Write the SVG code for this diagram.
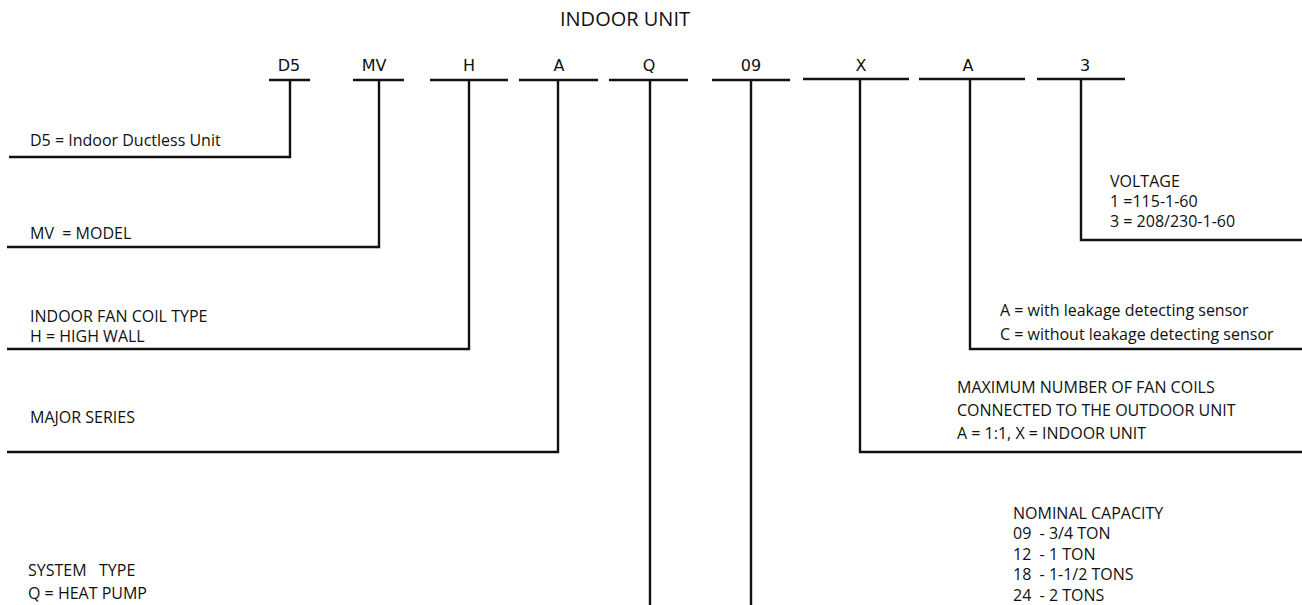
<svg xmlns="http://www.w3.org/2000/svg" width="1302" height="605" viewBox="0 0 1302 605">
  <style>
    .bg { fill: #ffffff; }
    .code { font-family: "DejaVu Sans", sans-serif; font-size: 16px; fill: #111; text-anchor: middle; }
    .desc { font-family: "Open Sans", "Liberation Sans", sans-serif; font-size: 16px; fill: #111; white-space: pre; }
    .title { font-family: "Open Sans", "Liberation Sans", sans-serif; font-size: 20px; fill: #111; text-anchor: middle; }
    .bar { stroke: #111; stroke-width: 2.6; fill: none; }
    .wire { stroke: #111; stroke-width: 2.4; fill: none; stroke-linejoin: miter; }
  </style>
  <rect class="bg" x="0" y="0" width="1302" height="605"/>

  <g id="title">
    <text class="title" x="625" y="26">INDOOR UNIT</text>
  </g>

  <g id="code-d5"><text class="code" x="289" y="71">D5</text><line class="bar" x1="269" y1="80" x2="310" y2="80"/></g>
  <g id="code-mv"><text class="code" x="374" y="71">MV</text><line class="bar" x1="353" y1="80" x2="404" y2="80"/></g>
  <g id="code-h"><text class="code" x="469" y="71">H</text><line class="bar" x1="430" y1="80" x2="508" y2="80"/></g>
  <g id="code-a1"><text class="code" x="559" y="71">A</text><line class="bar" x1="519" y1="80" x2="598" y2="80"/></g>
  <g id="code-q"><text class="code" x="649" y="71">Q</text><line class="bar" x1="609" y1="80" x2="688" y2="80"/></g>
  <g id="code-09"><text class="code" x="751" y="71">09</text><line class="bar" x1="712" y1="80" x2="790" y2="80"/></g>
  <g id="code-x"><text class="code" x="861" y="71">X</text><line class="bar" x1="803" y1="79" x2="909" y2="79"/></g>
  <g id="code-a2"><text class="code" x="968" y="71">A</text><line class="bar" x1="919" y1="79" x2="1025" y2="79"/></g>
  <g id="code-3"><text class="code" x="1085" y="71">3</text><line class="bar" x1="1037" y1="79" x2="1125" y2="79"/></g>

  <g id="connectors">
    <polyline class="wire" points="290,80 290,157 9,157"/>
    <polyline class="wire" points="379,80 379,247 7,247"/>
    <polyline class="wire" points="469,80 469,349 7,349"/>
    <polyline class="wire" points="558,80 558,452 7,452"/>
    <polyline class="wire" points="650,80 650,605"/>
    <polyline class="wire" points="751,80 751,605"/>
    <polyline class="wire" points="860,80 860,452 1302,452"/>
    <polyline class="wire" points="970,80 970,349 1302,349"/>
    <polyline class="wire" points="1081,79 1081,240 1302,240"/>
  </g>

  <g id="desc-d5"><text class="desc" x="30" y="146">D5 = Indoor Ductless Unit</text></g>
  <g id="desc-mv"><text class="desc" x="30" y="239">MV  = MODEL</text></g>
  <g id="desc-h">
    <text class="desc" x="30" y="322">INDOOR FAN COIL TYPE</text>
    <text class="desc" x="30" y="342">H = HIGH WALL</text>
  </g>
  <g id="desc-a1"><text class="desc" x="30" y="423">MAJOR SERIES</text></g>
  <g id="desc-q">
    <text class="desc" x="28" y="576">SYSTEM   TYPE</text>
    <text class="desc" x="28" y="599">Q = HEAT PUMP</text>
  </g>
  <g id="desc-3">
    <text class="desc" x="1110" y="187">VOLTAGE</text>
    <text class="desc" x="1110" y="207">1 =115-1-60</text>
    <text class="desc" x="1110" y="227">3 = 208/230-1-60</text>
  </g>
  <g id="desc-a2">
    <text class="desc" x="1000" y="316">A = with leakage detecting sensor</text>
    <text class="desc" x="1000" y="340">C = without leakage detecting sensor</text>
  </g>
  <g id="desc-x">
    <text class="desc" x="957" y="393">MAXIMUM NUMBER OF FAN COILS</text>
    <text class="desc" x="957" y="416">CONNECTED TO THE OUTDOOR UNIT</text>
    <text class="desc" x="957" y="439">A = 1:1, X = INDOOR UNIT</text>
  </g>
  <g id="desc-09">
    <text class="desc" x="1013" y="519">NOMINAL CAPACITY</text>
    <text class="desc" x="1013" y="539">09  - 3/4 TON</text>
    <text class="desc" x="1013" y="560">12  - 1 TON</text>
    <text class="desc" x="1013" y="580">18  - 1-1/2 TONS</text>
    <text class="desc" x="1013" y="601">24  - 2 TONS</text>
  </g>
</svg>
